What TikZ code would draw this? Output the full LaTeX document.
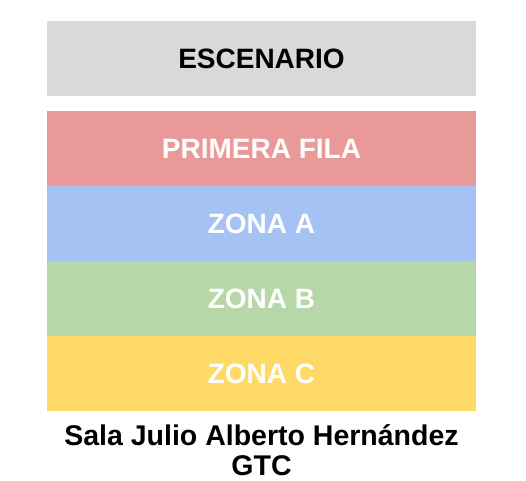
\documentclass[tikz,border=0pt]{standalone}
\usepackage{fontspec}
\setmainfont{Liberation Sans}
\usepackage{tikz}

\definecolor{escgray}{HTML}{D9D9D9}
\definecolor{filared}{HTML}{EA9999}
\definecolor{zonablue}{HTML}{A4C2F4}
\definecolor{zonagreen}{HTML}{B6D7A8}
\definecolor{zonayellow}{HTML}{FFD966}

\tikzset{
	zona/.style={shape=rectangle,inner sep=0pt,minimum width=429pt,minimum height=75pt,
		font=\bfseries\fontsize{28}{32}\selectfont,text=white},
}

\begin{document}
\begin{tikzpicture}[x=1pt,y=-1pt]
	\useasboundingbox (0,0) rectangle (526,480);
	\node[zona,fill=escgray,text=black] (E) at (261.5,58.75) {ESCENARIO};
	\node[zona,fill=filared] (P) at (261.5,148.5) {PRIMERA FILA};
	\node[zona,fill=zonablue] (A) at (261.5,223.5) {ZONA A};
	\node[zona,fill=zonagreen] (B) at (261.5,298.5) {ZONA B};
	\node[zona,fill=zonayellow] (C) at (261.5,373.75) {ZONA C};
	\node[align=center,font=\bfseries\fontsize{28.5}{30}\selectfont,text=black] (S) at (261.5,450) {Sala Julio Alberto Hernández\\GTC};
\end{tikzpicture}
\end{document}
